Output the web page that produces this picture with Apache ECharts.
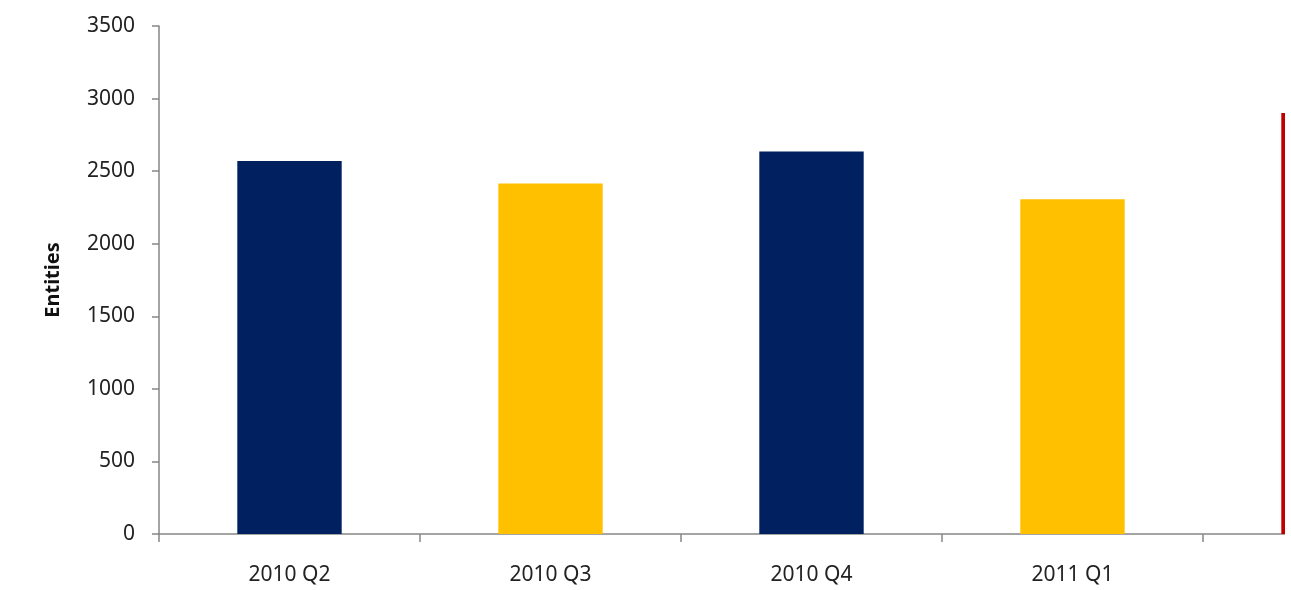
<!DOCTYPE html>
<html>
<head>
<meta charset="utf-8">
<script src="https://cdn.jsdelivr.net/npm/echarts@6/dist/echarts.min.js"></script>
<style>
html,body{margin:0;padding:0;background:#fff;}
#chart{width:1291px;height:590px;}
</style>
</head>
<body>
<div id="chart"></div>
<script>
const categories = ['2010 Q2', '2010 Q3', '2010 Q4', '2011 Q1', ''];
const entities = [2570, 2415, 2635, 2307, 2900];
const yTicks = { min: 0, max: 3500, interval: 500 };
const axisName = 'Entities';

const palette = ['#002060', '#FFC000', '#002060', '#FFC000', '#C00000'];
const font = '"Noto Sans", "Open Sans", sans-serif';

const chart = echarts.init(document.getElementById('chart'));
chart.setOption({
  backgroundColor: '#ffffff',
  animation: false,
  grid: { left: 159, top: 26, bottom: 56, right: -173, containLabel: false, outerBoundsMode: 'none' },
  xAxis: {
    type: 'category',
    data: categories,
    axisLine: { lineStyle: { color: '#868686', width: 1.5 } },
    axisTick: { show: true, length: 8, alignWithLabel: false, lineStyle: { color: '#868686', width: 1.5 } },
    axisLabel: { color: '#222', fontFamily: font, fontSize: 21, margin: 31 }
  },
  yAxis: {
    type: 'value',
    min: yTicks.min, max: yTicks.max, interval: yTicks.interval,
    name: axisName,
    nameLocation: 'middle',
    nameGap: 96,
    nameTextStyle: { color: '#111', fontFamily: font, fontSize: 20, fontWeight: 'bold' },
    axisLine: { show: true, lineStyle: { color: '#868686', width: 1.5 } },
    axisTick: { show: true, length: 7, lineStyle: { color: '#868686', width: 1.5 } },
    splitLine: { show: false },
    axisLabel: { color: '#222', fontFamily: font, fontSize: 21, margin: 24, formatter: v => String(v) }
  },
  series: [{
    type: 'bar',
    data: entities,
    barWidth: '40%',
    itemStyle: { color: p => palette[p.dataIndex % palette.length] }
  }],
  graphic: [{
    type: 'rect',
    right: 0, top: 0,
    shape: { width: 6, height: 590 },
    style: { fill: '#ffffff' },
    z: 1000
  }]
});
</script>
</body>
</html>
